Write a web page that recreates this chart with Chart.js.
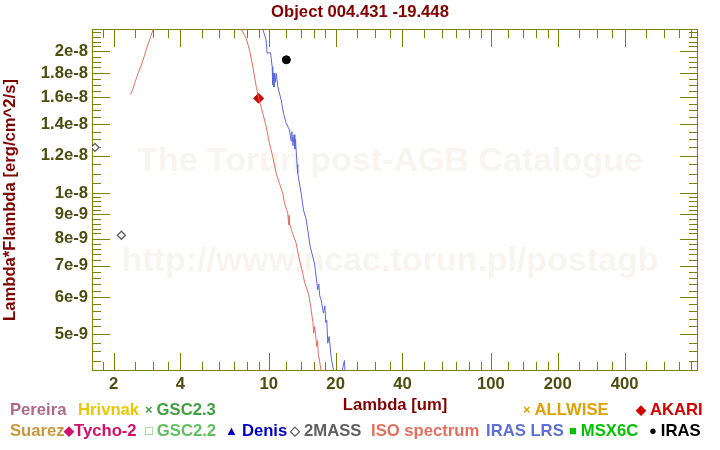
<!DOCTYPE html>
<html>
<head>
<meta charset="utf-8">
<script src="https://cdn.jsdelivr.net/npm/chart.js@4.4.1/dist/chart.umd.min.js"></script>
<style>
  body { margin: 0; background: #fff; }
  #wrap { position: relative; width: 720px; height: 450px; }
  #legend span.item { position: absolute; font: bold 16.67px 'Liberation Sans', Arial, sans-serif; white-space: nowrap; line-height: 18px; }
  #legend span.mk { font-size: 13px; vertical-align: 1px; }
</style>
</head>
<body>
<div id="wrap">
  <canvas id="chart" width="720" height="450"></canvas>
  <div id="legend"></div>
</div>
<script>
// ISO spectrum (um, erg/cm^2/s); null splits the two pieces
const isoWave = [2.386, 2.44, 2.487, 2.56, 2.647, 2.70, 2.758, 2.82, 2.884, 2.95, 3.018, 3.13,
  5.0,
  7.35, 7.51, 7.91, 8.19, 8.53, 8.78, 9.02, 9.40, 9.73, 10.07, 10.42, 10.80, 11.17, 11.56, 11.77,
  12.18, 12.30, 12.35, 12.39, 12.8, 13.28, 13.75, 14.22, 14.50, 14.73, 15.14, 15.52, 15.80, 15.94,
  16.10, 16.44, 16.60, 16.70, 16.91, 17.21, 17.5];
const isoFlux = [1.619e-8, 1.66e-8, 1.708e-8, 1.78e-8, 1.854e-8, 1.90e-8, 1.963e-8, 2.03e-8, 2.096e-8, 2.16e-8, 2.231e-8, 2.33e-8,
  null,
  2.35e-8, 2.23e-8, 2.134e-8, 2.015e-8, 1.827e-8, 1.683e-8, 1.590e-8, 1.478e-8, 1.384e-8, 1.276e-8, 1.195e-8, 1.101e-8, 1.049e-8, 0.999e-8, 9.51e-9,
  9.05e-9, 8.55e-9, 8.95e-9, 8.62e-9, 8.20e-9, 7.82e-9, 7.20e-9, 6.75e-9, 6.45e-9, 6.32e-9, 6.07e-9, 5.64e-9, 5.30e-9, 5.03e-9,
  5.20e-9, 4.71e-9, 4.85e-9, 4.55e-9, 4.41e-9, 4.17e-9, 4.0e-9];

// IRAS LRS
const lrsWave = [9.25, 9.40, 9.73, 9.83, 10.18, 10.36, 10.42, 10.47, 10.55, 10.62, 10.70, 10.80, 10.98, 11.37, 11.65, 11.98,
  12.39, 12.60, 12.70, 12.85, 13.00, 13.10, 13.20, 13.28, 13.40, 13.50, 13.99, 14.33, 14.73, 14.98, 15.36, 16.06, 16.61,
  16.80, 16.95, 17.21, 17.63, 17.90, 18.05, 18.24, 18.43, 18.70, 19.09, 19.41, 19.76, 20.5, 21.9, 22.5];
const lrsFlux = [2.30e-8, 2.23e-8, 2.116e-8, 1.983e-8, 1.989e-8, 1.857e-8, 1.70e-8, 1.80e-8, 1.68e-8, 1.80e-8, 1.72e-8, 1.797e-8, 1.683e-8, 1.577e-8, 1.478e-8, 1.407e-8,
  1.362e-8, 1.29e-8, 1.35e-8, 1.26e-8, 1.33e-8, 1.24e-8, 1.30e-8, 1.234e-8, 1.15e-8, 1.101e-8, 0.999e-8, 9.20e-9, 8.79e-9, 8.34e-9, 7.69e-9, 7.09e-9, 6.22e-9,
  6.40e-9, 6.05e-9, 5.92e-9, 5.55e-9, 5.75e-9, 5.30e-9, 5.37e-9, 4.79e-9, 4.95e-9, 4.48e-9, 4.27e-9, 4.12e-9, 3.8e-9, 4.4e-9, 3.5e-9];

const twoMassWave = [1.65, 2.17];
const twoMassFlux = [1.25e-8, 8.13e-9];
const akariWave = [9.0];
const akariFlux = [1.59e-8];
const irasWave = [12.0];
const irasFlux = [1.92e-8];

const xTicks = [2, 4, 10, 20, 40, 100, 200, 400];
const xTickLabels = ['2', '4', '10', '20', '40', '100', '200', '400'];
const xMinor = [1.6, 1.8, 2.5, 3, 3.5, 5, 6, 7, 8, 9, 12, 14, 16, 18, 25, 30, 35, 50, 60, 70, 80, 90,
  120, 140, 160, 180, 250, 300, 350, 500, 600, 700, 800];
const yTicks = [5e-9, 6e-9, 7e-9, 8e-9, 9e-9, 1e-8, 1.2e-8, 1.4e-8, 1.6e-8, 1.8e-8, 2e-8];
const yTickLabels = ['5e-9', '6e-9', '7e-9', '8e-9', '9e-9', '1e-8', '1.2e-8', '1.4e-8', '1.6e-8', '1.8e-8', '2e-8'];
const yMinor = [4.2e-9, 4.4e-9, 4.6e-9, 4.8e-9, 5.2e-9, 5.4e-9, 5.6e-9, 5.8e-9, 6.2e-9, 6.4e-9, 6.6e-9, 6.8e-9,
  7.2e-9, 7.4e-9, 7.6e-9, 7.8e-9, 8.2e-9, 8.4e-9, 8.6e-9, 8.8e-9, 9.2e-9, 9.4e-9, 9.6e-9, 9.8e-9,
  1.05e-8, 1.1e-8, 1.15e-8, 1.25e-8, 1.3e-8, 1.35e-8, 1.45e-8, 1.5e-8, 1.55e-8, 1.65e-8, 1.7e-8, 1.75e-8,
  1.85e-8, 1.9e-8, 1.95e-8, 2.05e-8, 2.1e-8, 2.15e-8, 2.2e-8];

const legendItems = [
  { text: 'Pereira', color: '#b0688a', mk: '', x: 10, row: 0 },
  { text: 'Hrivnak', color: '#e8c800', mk: '', x: 78, row: 0 },
  { text: 'GSC2.3', color: '#40a040', mk: '\u00d7', x: 145, row: 0 },
  { text: 'ALLWISE', color: '#e0a000', mk: '\u00d7', x: 523, row: 0 },
  { text: 'AKARI', color: '#d00000', mk: '\u25c6', x: 636, row: 0 },
  { text: 'Suarez', color: '#c8963c', mk: '', x: 10, row: 1 },
  { text: 'Tycho-2', color: '#d0106a', mk: '\u25c6', x: 64, row: 1, gap: 0 },
  { text: 'GSC2.2', color: '#60c060', mk: '\u25a1', x: 145, row: 1 },
  { text: 'Denis', color: '#0000c0', mk: '\u25b2', x: 225, row: 1 },
  { text: '2MASS', color: '#606060', mk: '\u25c7', x: 290, row: 1 },
  { text: 'ISO spectrum', color: '#e07060', mk: '', x: 371, row: 1 },
  { text: 'IRAS LRS', color: '#6070d0', mk: '', x: 486, row: 1 },
  { text: 'MSX6C', color: '#00c000', mk: '\u25a0', x: 569, row: 1 },
  { text: 'IRAS', color: '#000000', mk: '\u25cf', x: 649, row: 1 },
];

const pts = (xs, ys) => xs.map((v, i) => ({ x: v, y: ys[i] }));

const legend = document.getElementById('legend');
legendItems.forEach(it => {
  const s = document.createElement('span');
  s.className = 'item';
  s.style.left = it.x + 'px';
  s.style.top = (it.row ? 422 : 401) + 'px';
  s.style.color = it.color;
  if (it.mk) {
    const m = document.createElement('span');
    m.className = 'mk';
    m.style.marginRight = (it.gap === 0 ? 0 : 4) + 'px';
    m.textContent = it.mk;
    s.appendChild(m);
  }
  s.appendChild(document.createTextNode(it.text));
  legend.appendChild(s);
});

const olive = '#808000';

const framePlugin = {
  id: 'frame',
  beforeDatasetsDraw(chart) {
    const { ctx, chartArea: a, scales: { x, y } } = chart;
    ctx.save();
    // watermark
    ctx.fillStyle = '#f8f5f1';
    ctx.textAlign = 'center';
    ctx.textBaseline = 'middle';
    ctx.font = 'bold 34px "Liberation Sans", Arial, sans-serif';
    ctx.fillText('The Torun post-AGB Catalogue', 390, 162);
    ctx.fillText('http://www.ncac.torun.pl/postagb', 390, 262);
    // frame + inward ticks
    ctx.strokeStyle = olive;
    ctx.lineWidth = 1;
    ctx.strokeRect(a.left + 0.5, a.top + 0.5, a.right - a.left - 1, a.bottom - a.top - 1);
    const line = (x1, y1, x2, y2) => { ctx.beginPath(); ctx.moveTo(x1, y1); ctx.lineTo(x2, y2); ctx.stroke(); };
    const xt = (v, len) => {
      const p = Math.round(x.getPixelForValue(v)) + 0.5;
      line(p, a.bottom, p, a.bottom - len);
      line(p, a.top, p, a.top + len);
    };
    const yt = (v, len) => {
      const p = Math.round(y.getPixelForValue(v)) + 0.5;
      line(a.left, p, a.left + len, p);
      line(a.right, p, a.right - len, p);
    };
    xTicks.forEach(v => xt(v, 18));
    xMinor.forEach(v => xt(v, 9));
    yTicks.forEach(v => yt(v, 18));
    yMinor.forEach(v => yt(v, 9));
    ctx.restore();
  }
};

const fontFamily = "'Liberation Sans', Arial, sans-serif";
const tickFont = { family: fontFamily, size: 16.67, weight: 'bold' };
const labelFont = { family: fontFamily, size: 16.67, weight: 'bold' };
const titleColor = '#800000';

new Chart(document.getElementById('chart'), {
  type: 'scatter',
  data: {
    datasets: [
      { label: 'ISO spectrum', data: pts(isoWave, isoFlux), showLine: true, spanGaps: false,
        borderColor: '#e07060', borderWidth: 1, pointRadius: 0 },
      { label: 'IRAS LRS', data: pts(lrsWave, lrsFlux), showLine: true,
        borderColor: '#5a68d8', borderWidth: 1, pointRadius: 0 },
      { label: '2MASS', data: pts(twoMassWave, twoMassFlux), pointStyle: 'rectRot', pointRadius: 4,
        backgroundColor: '#ffffff', borderColor: '#606060', borderWidth: 1.3 },
      { label: 'AKARI', data: pts(akariWave, akariFlux), pointStyle: 'rectRot', pointRadius: 5,
        backgroundColor: '#cc0000', borderColor: '#cc0000', borderWidth: 1 },
      { label: 'IRAS', data: pts(irasWave, irasFlux), pointStyle: 'circle', pointRadius: 4,
        backgroundColor: '#000000', borderColor: '#000000', borderWidth: 1 },
    ]
  },
  options: {
    responsive: false,
    animation: false,
    layout: { padding: 0 },
    plugins: {
      legend: { display: false },
      tooltip: { enabled: false },
      title: {
        display: true,
        text: 'Object 004.431 -19.448',
        color: titleColor,
        font: labelFont,
        padding: { top: 2, bottom: 7 }
      }
    },
    scales: {
      x: {
        type: 'logarithmic',
        min: 1.6, max: 856,
        afterFit: s => { s.height = 79; },
        afterBuildTicks: s => { s.ticks = xTicks.map(v => ({ value: v })); },
        grid: { display: false, drawTicks: false },
        border: { display: false },
        ticks: {
          font: tickFont, color: '#4d4d12', padding: 3, maxRotation: 0, autoSkip: false,
          callback: v => xTickLabels[xTicks.indexOf(v)]
        },
        title: {
          display: true, text: 'Lambda [um]', color: titleColor, font: labelFont,
          padding: { top: 0, bottom: 35 }
        }
      },
      y: {
        type: 'logarithmic',
        position: 'left',
        min: 4.18e-9, max: 2.233e-8,
        afterFit: s => { s.width = 92; },
        afterBuildTicks: s => { s.ticks = yTicks.map(v => ({ value: v })); },
        grid: { display: false, drawTicks: false },
        border: { display: false },
        ticks: {
          font: tickFont, color: '#4d4d12', padding: 4, autoSkip: false,
          callback: v => yTickLabels[yTicks.indexOf(v)]
        },
        title: {
          display: true, text: 'Lambda*Flambda [erg/cm^2/s]', color: titleColor, font: labelFont,
          padding: { top: 0, bottom: 0 }
        }
      },
      y2: {
        type: 'logarithmic',
        position: 'right',
        min: 4.18e-9, max: 2.233e-8,
        afterFit: s => { s.width = 22; },
        grid: { display: false, drawTicks: false },
        border: { display: false },
        ticks: { display: false }
      }
    }
  },
  plugins: [framePlugin]
});
</script>
</body>
</html>
